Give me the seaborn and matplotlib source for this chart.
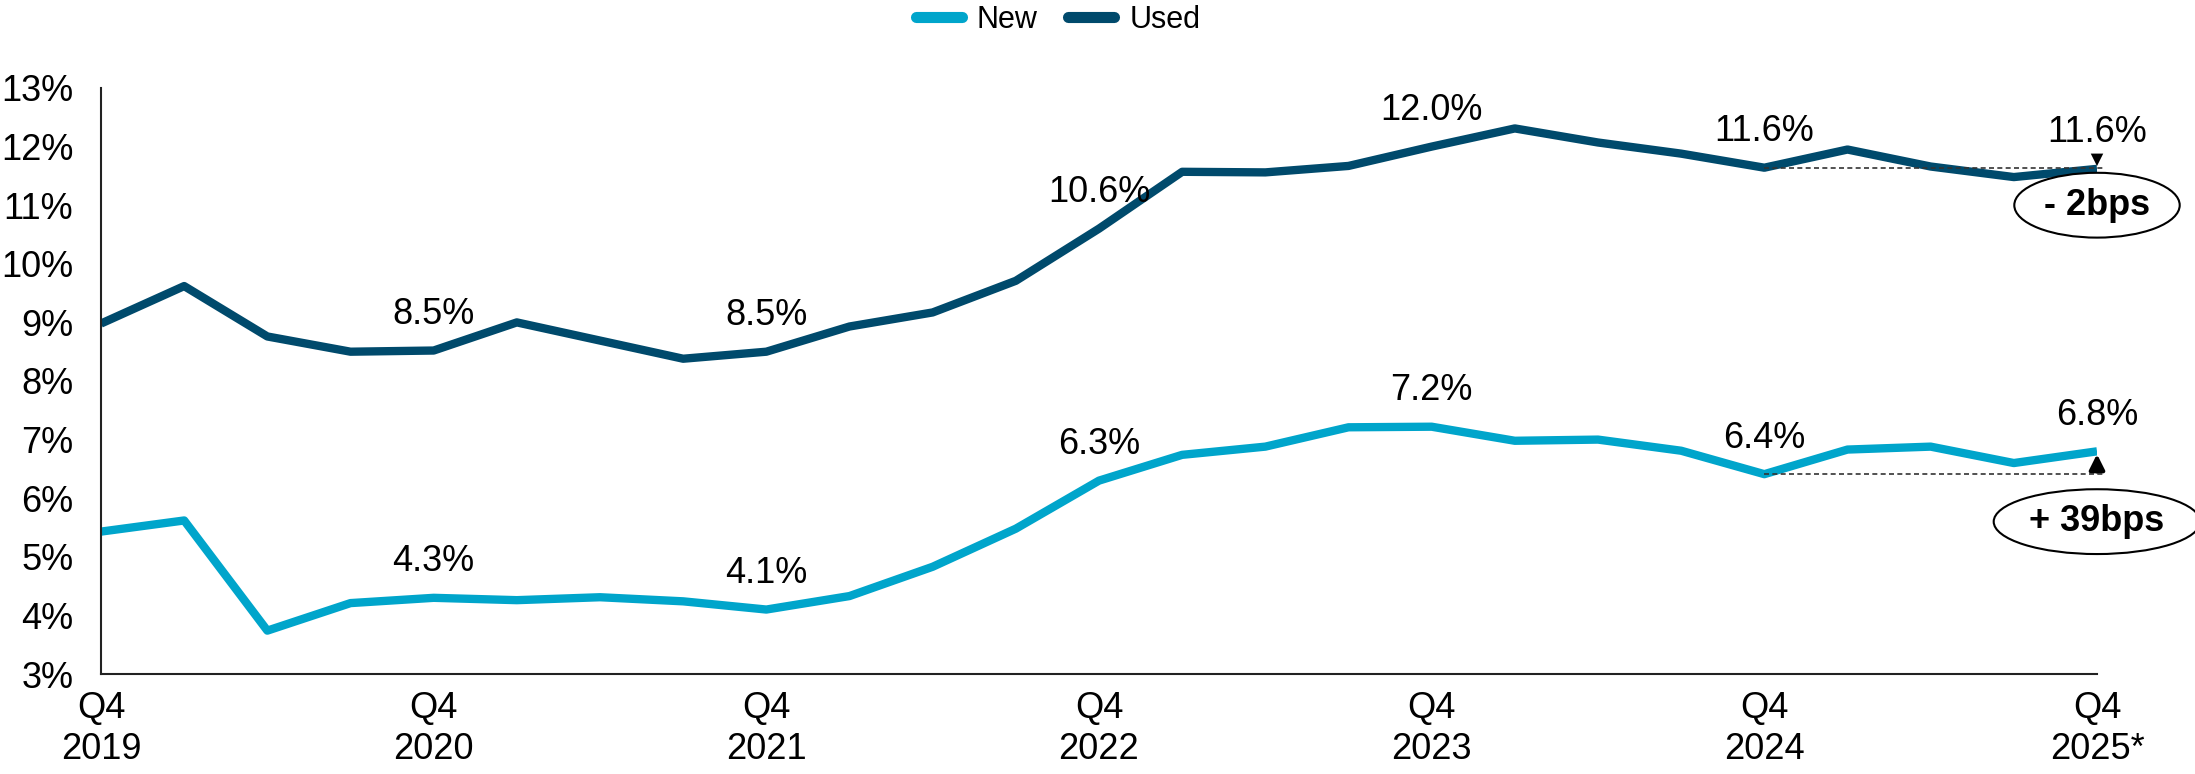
import numpy as np
import pandas as pd
import seaborn as sns
import matplotlib.pyplot as plt

quarters = ["Q4 2019", "Q1 2020", "Q2 2020", "Q3 2020", "Q4 2020", "Q1 2021", "Q2 2021",
            "Q3 2021", "Q4 2021", "Q1 2022", "Q2 2022", "Q3 2022", "Q4 2022", "Q1 2023",
            "Q2 2023", "Q3 2023", "Q4 2023", "Q1 2024", "Q2 2024", "Q3 2024", "Q4 2024",
            "Q1 2025", "Q2 2025", "Q3 2025", "Q4 2025"]
tick_labels = ["Q4\n2019", "Q4\n2020", "Q4\n2021", "Q4\n2022", "Q4\n2023", "Q4\n2024", "Q4\n2025*"]

new = [5.43, 5.62, 3.74, 4.21, 4.30, 4.26, 4.31, 4.24, 4.10, 4.33, 4.83, 5.48, 6.30,
       6.74, 6.88, 7.21, 7.22, 6.98, 7.00, 6.81, 6.41, 6.83, 6.88, 6.60, 6.80]
used = [8.98, 9.62, 8.76, 8.50, 8.52, 9.00, 8.69, 8.38, 8.50, 8.93, 9.17, 9.71, 10.60,
        11.57, 11.56, 11.67, 12.00, 12.31, 12.07, 11.88, 11.64, 11.95, 11.66, 11.48, 11.62]

colors = {"New": "#00A5CB", "Used": "#004A6C"}

df = pd.DataFrame({"quarter": quarters * 2,
                   "x": list(range(len(quarters))) * 2,
                   "rate": new + used,
                   "type": ["New"] * len(new) + ["Used"] * len(used)})

plt.rcParams['font.family'] = ['Liberation Sans', 'DejaVu Sans']
fig = plt.figure(figsize=(21.95, 7.74), dpi=100)
ax = fig.add_axes([101 / 2195, 1 - 674 / 774, (2097 - 101) / 2195, (674 - 88) / 774])

sns.lineplot(data=df, x="x", y="rate", hue="type", palette=colors, linewidth=6,
             ax=ax, legend=False, solid_capstyle="butt")

ax.set_xlim(0, len(quarters) - 1)
ax.set_ylim(3, 13)
ax.set_yticks(range(3, 14))
ax.set_yticklabels([f"{v}%" for v in range(3, 14)])
ax.set_xticks(range(0, len(quarters), 4))
ax.set_xticklabels(tick_labels, linespacing=1.25)
ax.tick_params(axis="y", length=0, pad=20, labelsize=26)
ax.tick_params(axis="x", length=0, pad=12, labelsize=26)
ax.set_xlabel("")
ax.set_ylabel("")
for s in ["top", "right"]:
    ax.spines[s].set_visible(False)
for s in ["left", "bottom"]:
    ax.spines[s].set_linewidth(1.5)
    ax.spines[s].set_color("#222222")

# labels at each Q4
for series in [new, used]:
    for i in range(4, len(series), 4):
        ax.annotate(f"{series[i]:.1f}%", (i, series[i]), xytext=(0, 26),
                    textcoords="offset points", ha="center", va="center", fontsize=26)

# change vs prior year
last = len(quarters) - 1
for series, ypos in [(used, 11.0), (new, 5.6)]:
    ax.plot([last - 4, last + 0.1], [series[last - 4]] * 2, ls=(0, (3, 2)), lw=1.2,
            color="#333333", clip_on=False)
    bps = round((series[last] - series[last - 4]) * 100)
    sign = "+" if bps >= 0 else "-"
    ax.text(last, ypos, f"{sign} {abs(bps)}bps", ha="center", va="center", fontsize=26,
            fontweight="bold", clip_on=False,
            bbox=dict(boxstyle="ellipse,pad=0.15", fc="white", ec="black", lw=1.5))

# arrows
ax.annotate("", xy=(last, used[last]), xytext=(last, used[last] + 0.3),
            arrowprops=dict(arrowstyle="-|>,head_width=0.45,head_length=0.9", color="black", lw=0),
            annotation_clip=False)
ax.annotate("", xy=(last, new[last]), xytext=(last, new[last - 4]),
            arrowprops=dict(arrowstyle="-|>,head_width=0.45,head_length=0.9", color="black", lw=3),
            annotation_clip=False)

# legend
handles = [plt.Line2D([], [], color=colors[k], lw=8, solid_capstyle="round") for k in colors]
fig.legend(handles, list(colors), loc="center", bbox_to_anchor=(1058 / 2195, 1 - 20 / 774),
           ncol=2, frameon=False, fontsize=22, handlelength=1.5, handletextpad=0.5,
           columnspacing=1.0)

fig.savefig("out.png", dpi=100)
